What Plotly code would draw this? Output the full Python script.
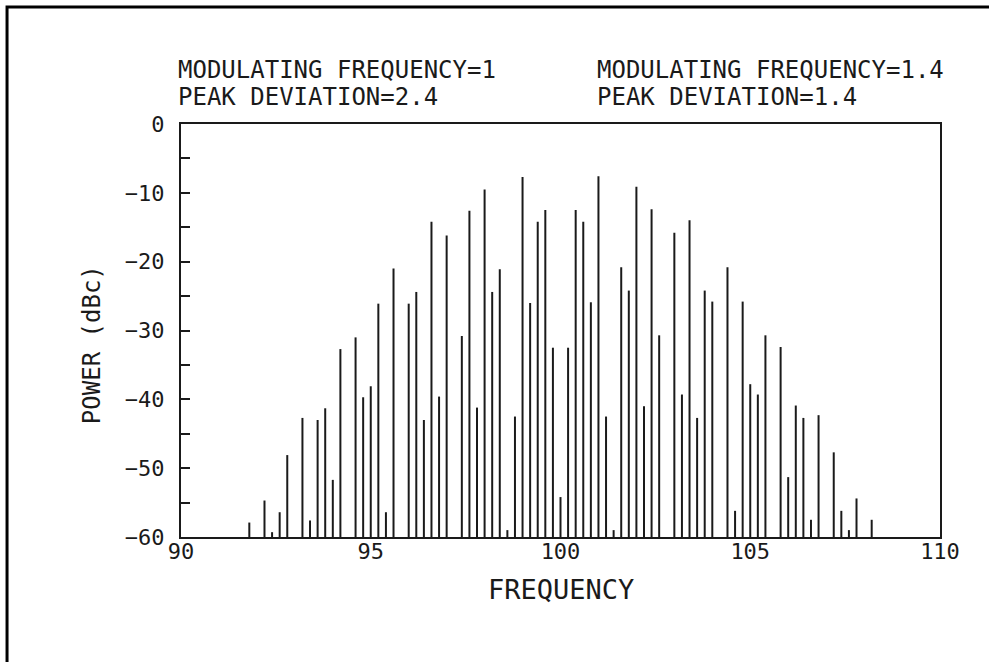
import plotly.graph_objects as go

# spectral line frequencies and their levels (dBc)
freq = [91.8, 92.2, 92.4, 92.6, 92.8, 93.2, 93.4, 93.6, 93.8, 94.0,
        94.2, 94.6, 94.8, 95.0, 95.2, 95.4, 95.6, 96.0, 96.2, 96.4,
        96.6, 96.8, 97.0, 97.4, 97.6, 97.8, 98.0, 98.2, 98.4, 98.6,
        98.8, 99.0, 99.2, 99.4, 99.6, 99.8, 100.0,
        100.2, 100.4, 100.6, 100.8, 101.0, 101.2, 101.4, 101.6, 101.8, 102.0,
        102.2, 102.4, 102.6, 103.0, 103.2, 103.4, 103.6, 103.8, 104.0, 104.4,
        104.6, 104.8, 105.0, 105.2, 105.4, 105.8, 106.0, 106.2, 106.4, 106.6,
        106.8, 107.2, 107.4, 107.6, 107.8, 108.2]
power = [-57.9, -54.7, -59.3, -56.4, -48.1, -42.7, -57.6, -43.0, -41.3, -51.7,
         -32.7, -31.0, -39.7, -38.1, -26.1, -56.4, -21.0, -26.1, -24.4, -43.0,
         -14.2, -39.6, -16.2, -30.8, -12.6, -41.2, -9.5, -24.4, -21.1, -59.0,
         -42.5, -7.7, -26.0, -14.2, -12.5, -32.5, -54.2,
         -32.5, -12.5, -14.2, -25.9, -7.6, -42.5, -59.0, -20.8, -24.2, -9.1,
         -41.0, -12.4, -30.7, -15.8, -39.3, -14.0, -42.7, -24.2, -25.8, -20.8,
         -56.2, -25.8, -37.8, -39.3, -30.7, -32.4, -51.3, -40.9, -42.7, -57.5,
         -42.3, -47.7, -56.2, -59.0, -54.4, -57.5]

floor_db = -60
xticks = [90, 95, 100, 105, 110]
yticks = [0, -10, -20, -30, -40, -50, -60]

notes_left = ['MODULATING FREQUENCY=1', 'PEAK DEVIATION=2.4']
notes_right = ['MODULATING FREQUENCY=1.4', 'PEAK DEVIATION=1.4']

FONT = 'DejaVu Sans Mono'
INK = '#1a1a1a'

# each line drawn as a vertical stick from the floor
xs, ys = [], []
for f, p in zip(freq, power):
    xs += [f, f, None]
    ys += [floor_db, p, None]

fig = go.Figure()
fig.add_trace(go.Scatter(x=xs, y=ys, mode='lines',
                         line=dict(color=INK, width=2), hoverinfo='skip',
                         showlegend=False))

fig.update_layout(
    width=989, height=662,
    margin=dict(l=181, r=49, t=124, b=125),
    paper_bgcolor='white', plot_bgcolor='white',
    font=dict(family=FONT, size=22, color=INK),
    showlegend=False,
)
fig.update_xaxes(
    range=[90, 110], tickvals=xticks, ticks='', showgrid=False, zeroline=False,
    showline=True, mirror=True, linecolor=INK, linewidth=2,
    ticklabelstandoff=-6,
)
fig.update_yaxes(
    range=[-60, 0], tickvals=yticks, ticks='inside', ticklen=9, tickwidth=2,
    tickcolor=INK, showgrid=False, zeroline=False,
    showline=True, mirror=True, linecolor=INK, linewidth=2,
    minor=dict(dtick=5, tick0=0, ticks='inside', ticklen=9, tickwidth=2, tickcolor=INK),
    ticklabelstandoff=10,
)

# axis titles
fig.add_annotation(x=0.5, y=-0.128, xref='paper', yref='paper',
                   xanchor='center', yanchor='middle',
                   text='FREQUENCY', showarrow=False,
                   font=dict(family=FONT, size=27, color=INK))
fig.add_annotation(x=-0.117, y=0.465, xref='paper', yref='paper',
                   xanchor='center', yanchor='middle',
                   text='POWER (dBc)', showarrow=False, textangle=-90,
                   font=dict(family=FONT, size=24, color=INK))

# parameter notes above the frame
for xp, lines in [(-0.006, notes_left), (0.546, notes_right)]:
    for yp, txt in zip([1.1308, 1.0654], lines):
        fig.add_annotation(x=xp, y=yp, xref='paper', yref='paper',
                           xanchor='left', yanchor='middle',
                           text=txt, showarrow=False,
                           font=dict(family=FONT, size=24, color=INK))

# outer border of the figure
fig.add_shape(type='rect', xref='paper', yref='paper',
              x0=-0.2292, x1=1.08, y0=-0.34, y1=1.2833,
              line=dict(color='black', width=3))

# drop the default page margin so the figure sits at the window corner
fig.write_html('out.html', config={'displayModeBar': False},
               post_script="document.body.style.margin='0';")
